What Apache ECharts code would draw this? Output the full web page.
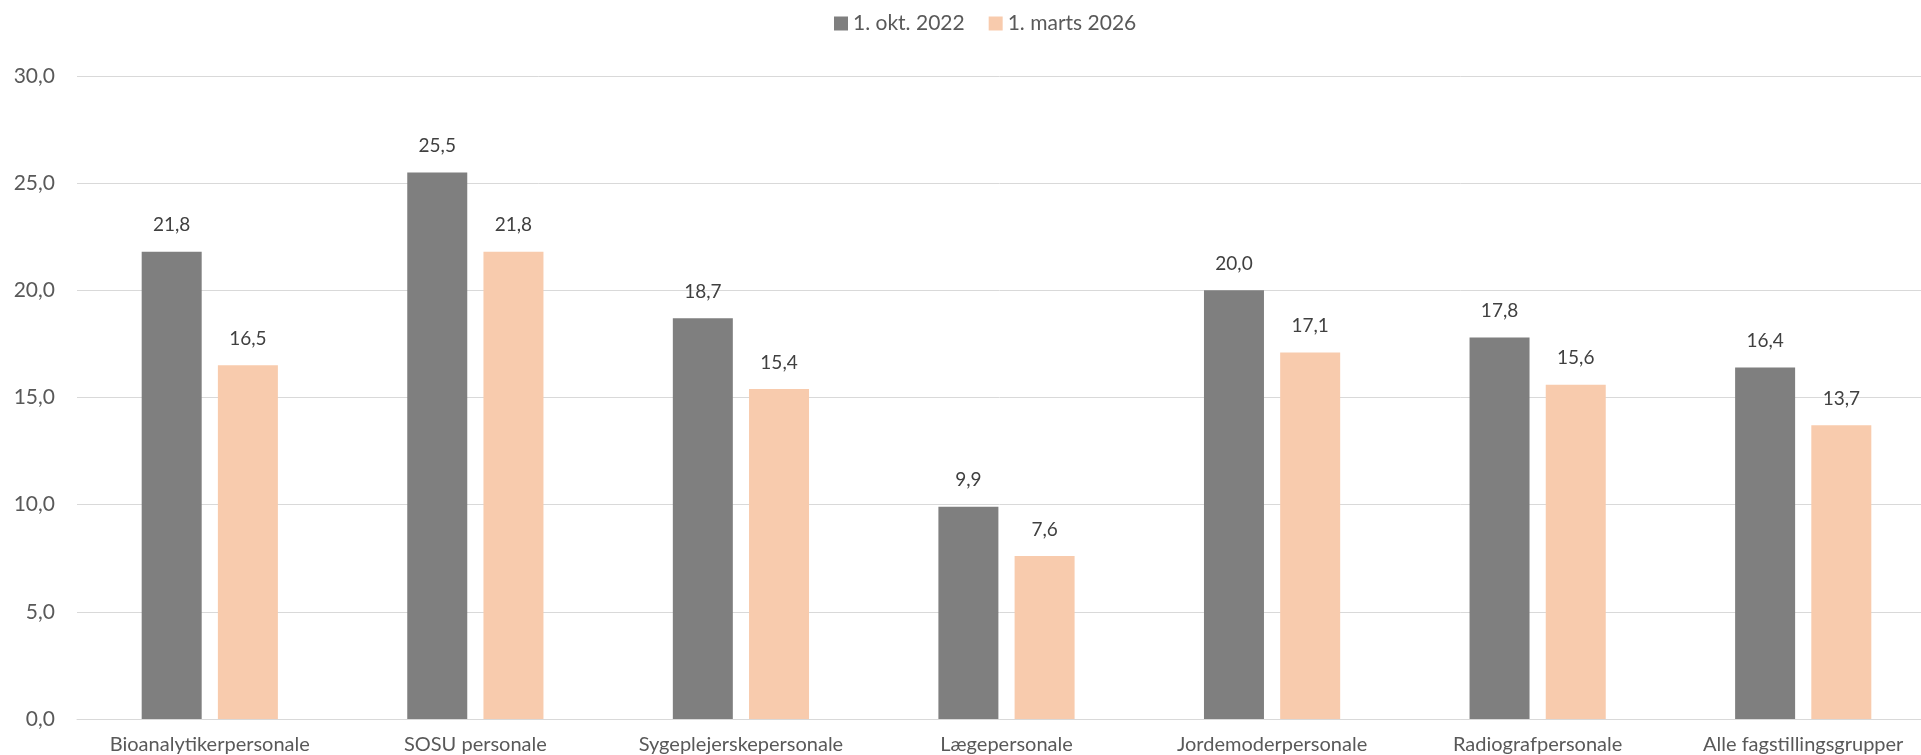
<!DOCTYPE html>
<html>
<head>
<meta charset="utf-8">
<title>Fagstillingsgrupper</title>
<script src="https://cdn.jsdelivr.net/npm/echarts@6/dist/echarts.min.js"></script>
<style>
  html, body { margin: 0; padding: 0; background: #fff; }
  #chart { width: 1921px; height: 755px; }
</style>
</head>
<body>
<div id="chart"></div>
<script>
  // data
  var categories = ['Bioanalytikerpersonale', 'SOSU personale', 'Sygeplejerskepersonale', 'Lægepersonale',
    'Jordemoderpersonale', 'Radiografpersonale', 'Alle fagstillingsgrupper']
  var seriesNames = ['1. okt. 2022', '1. marts 2026']
  var okt2022 = [21.8, 25.5, 18.7, 9.9, 20.0, 17.8, 16.4]
  var marts2026 = [16.5, 21.8, 15.4, 7.6, 17.1, 15.6, 13.7]
  var yTicks = [0, 5, 10, 15, 20, 25, 30]

  function fmt(v) {
    return Number(v).toFixed(1).replace('.', ',')
  }

  var font = 'Lato'
  var chart = echarts.init(document.getElementById('chart'))

  chart.setOption({
    animation: false,
    textStyle: { fontFamily: font },
    legend: {
      data: seriesNames,
      top: 8,
      left: 829,
      itemWidth: 14,
      itemHeight: 14,
      itemGap: 24,
      icon: 'rect',
      textStyle: { color: '#595959', fontSize: 21, fontFamily: font }
    },
    // plot area runs a little past the right edge, as in the original
    grid: {
      left: 77,
      width: 1859,
      top: 76,
      bottom: 36,
      containLabel: false,
      outerBoundsMode: 'none'
    },
    xAxis: {
      type: 'category',
      data: categories,
      axisLine: { lineStyle: { color: '#d9d9d9', width: 1 } },
      axisTick: { show: false },
      axisLabel: { color: '#595959', fontSize: 20, margin: 16, interval: 0 }
    },
    yAxis: {
      type: 'value',
      min: yTicks[0],
      max: yTicks[yTicks.length - 1],
      interval: 5,
      axisLine: { show: false },
      axisTick: { show: false },
      splitLine: { lineStyle: { color: '#d9d9d9', width: 1 } },
      axisLabel: { color: '#595959', fontSize: 21, margin: 22, formatter: fmt }
    },
    series: [{
      name: seriesNames[0],
      type: 'bar',
      data: okt2022,
      barWidth: 60,
      barGap: '27%',
      itemStyle: { color: '#7f7f7f' },
      label: { show: true, position: 'top', distance: 17, color: '#404040', fontSize: 19, formatter: function (p) { return fmt(p.value) } }
    }, {
      name: seriesNames[1],
      type: 'bar',
      data: marts2026,
      barWidth: 60,
      itemStyle: { color: '#f8cbad' },
      label: { show: true, position: 'top', distance: 17, color: '#404040', fontSize: 19, formatter: function (p) { return fmt(p.value) } }
    }]
  })
</script>
</body>
</html>
